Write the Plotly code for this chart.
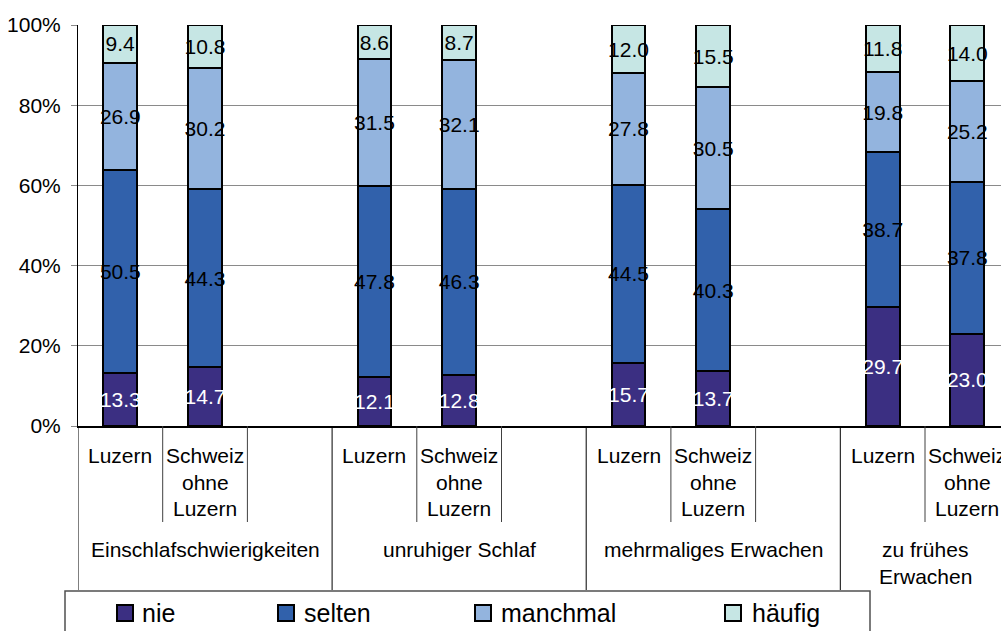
import plotly.graph_objects as go

# Sleep problems: answer shares per region
groups = ["Einschlafschwierigkeiten", "unruhiger Schlaf", "mehrmaliges Erwachen", "zu frühes|Erwachen"]
regions = ["Luzern", "Schweiz|ohne|Luzern"]
series = ["nie", "selten", "manchmal", "häufig"]
nie = [13.3, 14.7, 12.1, 12.8, 15.7, 13.7, 29.7, 23.0]
selten = [50.5, 44.3, 47.8, 46.3, 44.5, 40.3, 38.7, 37.8]
manchmal = [26.9, 30.2, 31.5, 32.1, 27.8, 30.5, 19.8, 25.2]
haeufig = [9.4, 10.8, 8.6, 8.7, 12.0, 15.5, 11.8, 14.0]
y_ticks = [0, 20, 40, 60, 80, 100]
y_tick_labels = ["0%", "20%", "40%", "60%", "80%", "100%"]

colors = ["#3b2f82", "#3161ab", "#93b4de", "#c6e6e4"]
text_colors = ["white", "black", "black", "black"]
FONT = "Liberation Sans, Arial, sans-serif"

W, H = 1001, 631
L, T, B = 78, 25, 205
plot_w = W - L
plot_h = H - T - B
slot = 84.7
x_max = -0.5 + plot_w / slot

# each group occupies three slots: Luzern, Schweiz ohne Luzern, empty gap
xpos = []
for g in range(len(groups)):
    xpos += [3 * g, 3 * g + 1]

fig = go.Figure()
for name, vals, col, tcol in zip(series, [nie, selten, manchmal, haeufig], colors, text_colors):
    fig.add_trace(go.Bar(
        x=xpos, y=vals, name=name, width=0.4,
        marker=dict(color=col, line=dict(color="black", width=2)),
        text=[f"{v:.1f}" for v in vals], textposition="inside",
        insidetextanchor="middle", textangle=0,
        textfont=dict(family=FONT, size=21, color=tcol),
        showlegend=False,
    ))


def py(pix):
    """pixel row -> paper y"""
    return (H - B - pix) / plot_h


def px(pix):
    """pixel column -> paper x"""
    return (pix - L) / plot_w


shapes = []
annotations = []

# category axis separators
for g in range(len(groups)):
    base = 3 * g - 0.5
    shapes.append(dict(type="line", xref="x", yref="paper", x0=base, x1=base,
                       y0=0, y1=py(590), line=dict(color="black", width=1)))
    for k in (1, 2):
        shapes.append(dict(type="line", xref="x", yref="paper", x0=base + k, x1=base + k,
                           y0=0, y1=py(522), line=dict(color="#404040", width=1)))

# category labels
line_rows = [455.5, 482, 508.5]
for g, gname in enumerate(groups):
    for r, rname in enumerate(regions):
        for i, part in enumerate(rname.split("|")):
            annotations.append(dict(x=3 * g + r, xref="x", y=py(line_rows[i]), yref="paper",
                                    text=part, showarrow=False, xanchor="center", yanchor="middle",
                                    font=dict(family=FONT, size=21, color="black")))
    gx = 3 * g + 1 if "|" not in gname else 3 * g + 0.5
    for i, part in enumerate(gname.split("|")):
        annotations.append(dict(x=gx, xref="x", y=py(549.5 + 26.5 * i), yref="paper",
                                text=part, showarrow=False, xanchor="center", yanchor="middle",
                                font=dict(family=FONT, size=21, color="black")))

# legend box
shapes.append(dict(type="rect", xref="paper", yref="paper", x0=px(65), x1=px(870),
                   y0=py(645), y1=py(591), line=dict(color="#505050", width=1.5),
                   fillcolor="white"))
legend_pos = [(117, 140), (278, 302), (475, 499), (725, 750)]
for (sx, tx), name, col in zip(legend_pos, series, colors):
    shapes.append(dict(type="rect", xref="paper", yref="paper", x0=px(sx), x1=px(sx + 16),
                       y0=py(621), y1=py(605), line=dict(color="black", width=2), fillcolor=col))
    annotations.append(dict(x=px(tx), xref="paper", y=py(613), yref="paper", text=name,
                            showarrow=False, xanchor="left", yanchor="middle",
                            font=dict(family=FONT, size=25, color="black")))

fig.update_layout(
    width=W, height=H,
    margin=dict(l=L, r=0, t=T, b=B, pad=0),
    barmode="stack", barnorm="percent",
    plot_bgcolor="white", paper_bgcolor="white",
    uniformtext=dict(mode="show", minsize=21),
    xaxis=dict(range=[-0.5, x_max], showticklabels=False, showgrid=False, zeroline=False,
               showline=True, linecolor="black", linewidth=1.5, ticks=""),
    yaxis=dict(range=[0, 100], tickmode="array", tickvals=y_ticks, ticktext=y_tick_labels,
               showgrid=True, gridcolor="#8a8a8a", gridwidth=1, zeroline=False, showline=True,
               linecolor="black", linewidth=1, ticks="outside", ticklen=6,
               tickcolor="#8a8a8a", ticklabelstandoff=6,
               tickfont=dict(family=FONT, size=21, color="black")),
    shapes=shapes, annotations=annotations,
    showlegend=False,
)

fig.write_html("out.html")
